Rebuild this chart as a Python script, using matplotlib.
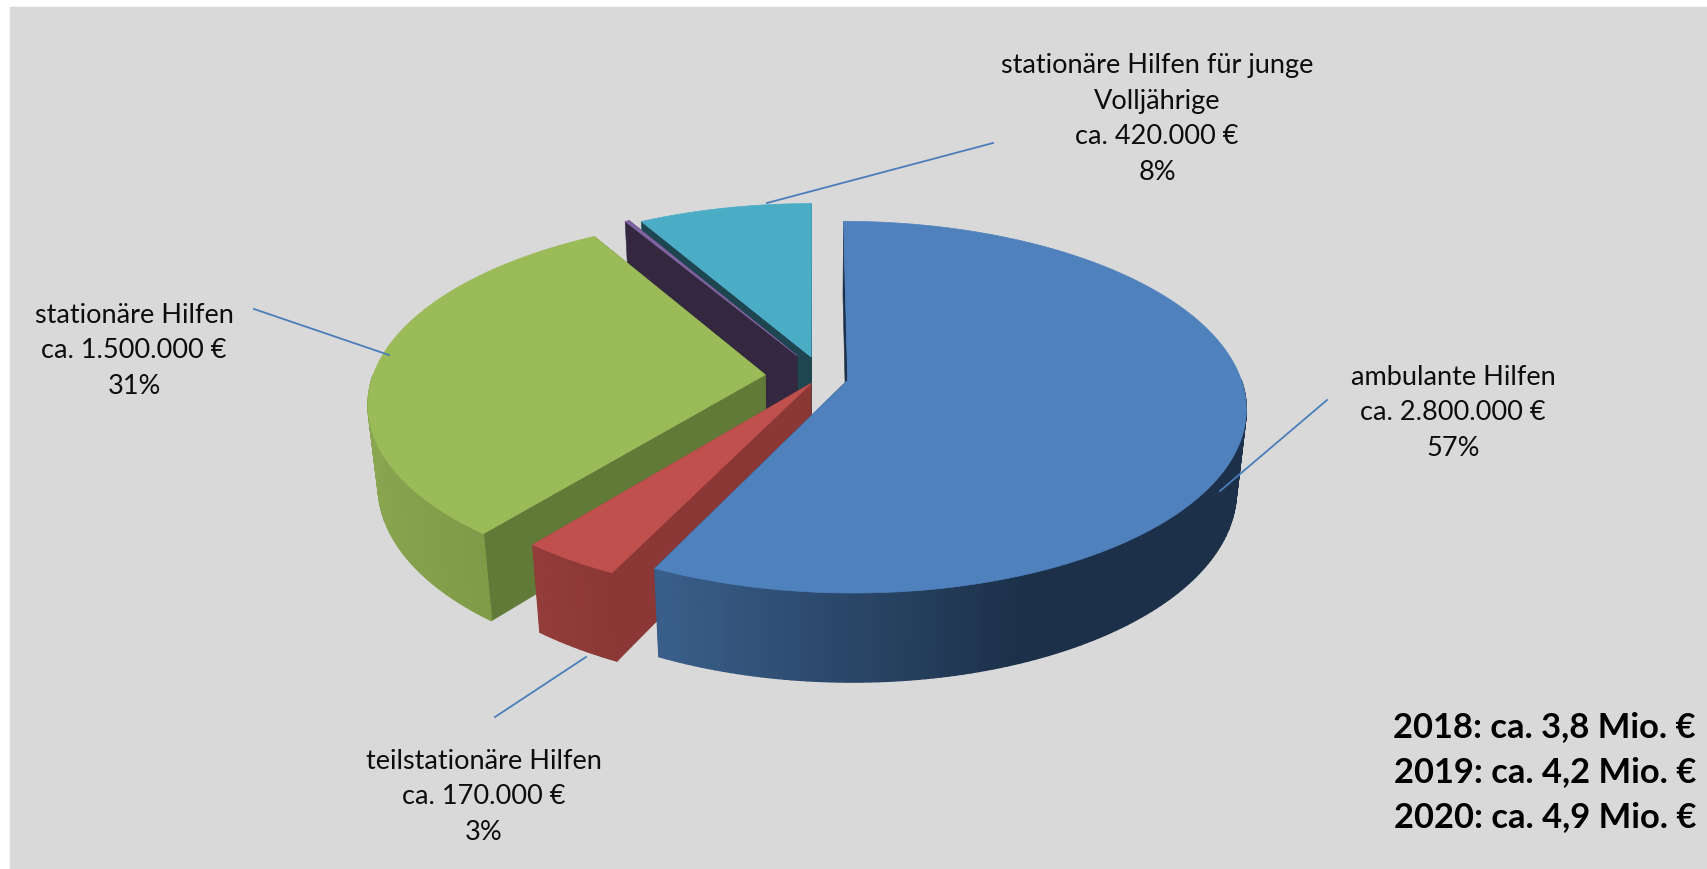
"""Exploded perspective pie: Jugendhilfe costs 2020, drawn by hand with a small projection."""

import numpy as np
import matplotlib

matplotlib.use("Agg")
import matplotlib.pyplot as plt
from matplotlib.colors import to_rgb

# ---- data -------------------------------------------------------------------
SLICE_NAMES = ["ambulant", "teilstationaer", "stationaer", "sonstige", "junge_volljaehrige"]
SLICE_VALUES = [2810000, 173000, 1515000, 10000, 405000]

LABELS = [
    "ambulante Hilfen\nca. 2.800.000 €\n57%",
    "teilstationäre Hilfen\nca. 170.000 €\n3%",
    "stationäre Hilfen\nca. 1.500.000 €\n31%",
    "stationäre Hilfen für junge\nVolljährige\nca. 420.000 €\n8%",
]
YEAR_LINES = ["2018: ca. 3,8 Mio. €", "2019: ca. 4,2 Mio. €", "2020: ca. 4,9 Mio. €"]

# ---- style ------------------------------------------------------------------
PANEL = "#d9d9d9"
LEADER = "#4a7ebb"
FONT = "Lato"

TOP_COLORS = ["#4f81bd", "#c0504d", "#9bbb59", "#8064a2", "#4bacc6"]
RADIAL_COLORS = ["#1c3049", "#8a3735", "#617a38", "#33283f", "#1d4651"]
# outer wall: colour at x_a, colour at x_b, with x the unit-circle coordinate
WALL_RAMPS = [
    ("#3a5f8b", "#1c3049", -0.43, 0.38),
    ("#933d3a", "#8a3735", -0.62, -0.43),
    ("#8aa650", "#7f9a48", -1.0, -0.6),
    ("#33283f", "#33283f", -1.0, 0.0),
    ("#1d4651", "#1d4651", -1.0, 0.0),
]

# ---- projection (pixels of the 1707x869 canvas) -----------------------------
CX, CY = 815, 378
RX, RY = 393, 181.3
DEPTH = 83
PERSP_Y, PERSP_Z = 0.145, 0.023
# explosion of each slice in the pie plane, in radii
OFFSET_X = [0.083, -0.010, -0.127, -0.046, -0.010]
OFFSET_Y = [-0.012, -0.030, 0.018, 0.125, 0.118]


def project(x, y, z=0.0):
    w = 1 + PERSP_Y * y + PERSP_Z * z
    return CX + RX * x / w, CY + (-RY * y + DEPTH * z) / w


def mix(a, b, t):
    a, b = np.array(to_rgb(a)), np.array(to_rgb(b))
    return tuple(a + (b - a) * t)


def fill(ax, xs, ys, color, z, lw=0.8):
    ax.fill(xs, ys, facecolor=color, edgecolor=color, linewidth=lw, zorder=z)


def draw_slice(ax, i, start, end, z):
    ox, oy = OFFSET_X[i], OFFSET_Y[i]
    theta = np.linspace(start, end, max(3, int(np.degrees(end - start))))
    ux, uy = np.sin(theta), np.cos(theta)
    px, py = ux + ox, uy + oy

    # radial walls first, the outer wall and the top then cover what is hidden
    for a in (theta[0], theta[-1]):
        ex, ey = np.sin(a) + ox, np.cos(a) + oy
        pts = [project(ox, oy), project(ex, ey), project(ex, ey, 1), project(ox, oy, 1)]
        fill(ax, [p[0] for p in pts], [p[1] for p in pts], RADIAL_COLORS[i], z, lw=0.4)

    c_a, c_b, x_a, x_b = WALL_RAMPS[i]
    for k in range(len(theta) - 1):
        if uy[k] > 0 and uy[k + 1] > 0:  # far side, hidden under the top
            continue
        t = np.clip((ux[k] - x_a) / (x_b - x_a), 0, 1)
        qx = [px[k], px[k + 1], px[k + 1], px[k]]
        qy = [py[k], py[k + 1], py[k + 1], py[k]]
        qz = [0, 0, 1, 1]
        sx, sy = project(np.array(qx), np.array(qy), np.array(qz))
        fill(ax, sx, sy, mix(c_a, c_b, t), z, lw=1.0)

    sx, sy = project(np.r_[ox, px], np.r_[oy, py])
    fill(ax, sx, sy, TOP_COLORS[i], z, lw=0.5)


def main():
    plt.rcParams["font.family"] = [FONT, "DejaVu Sans"]
    fig = plt.figure(figsize=(17.07, 8.69), dpi=100, facecolor="white")
    ax = fig.add_axes([0, 0, 1, 1])
    ax.set_xlim(0, 1707)
    ax.set_ylim(869, 0)
    ax.axis("off")

    ax.fill([10, 1707, 1707, 10], [7, 7, 869, 869], color=PANEL, zorder=0)

    fractions = np.array(SLICE_VALUES) / sum(SLICE_VALUES)
    edges = np.r_[0, np.cumsum(fractions)] * 2 * np.pi

    # painter's order, back to front
    for z, i in enumerate([4, 3, 2, 1, 0], start=1):
        draw_slice(ax, i, edges[i], edges[i + 1], z)

    leaders = [
        ((1327, 400), (1220, 491)),
        ((586, 657), (495, 717)),
        ((254, 309), (389, 355)),
        ((767, 203), (993, 143)),
    ]
    for (x0, y0), (x1, y1) in leaders:
        ax.plot([x0, x1], [y0, y1], color=LEADER, linewidth=1.3, zorder=10)

    label_pos = [(1453, 413), (484, 797), (134, 351), (1157, 119)]
    for text, (x, y) in zip(LABELS, label_pos):
        ax.text(x, y, text, ha="center", va="center", fontsize=19.5, color="#0d0d0d",
                linespacing=1.54, zorder=11)

    for text, y in zip(YEAR_LINES, [727, 772, 817]):
        ax.text(1696, y, text, ha="right", va="center", fontsize=24.8, fontweight="bold",
                color="black", zorder=11)

    fig.savefig("out.png", dpi=100)


if __name__ == "__main__":
    main()
